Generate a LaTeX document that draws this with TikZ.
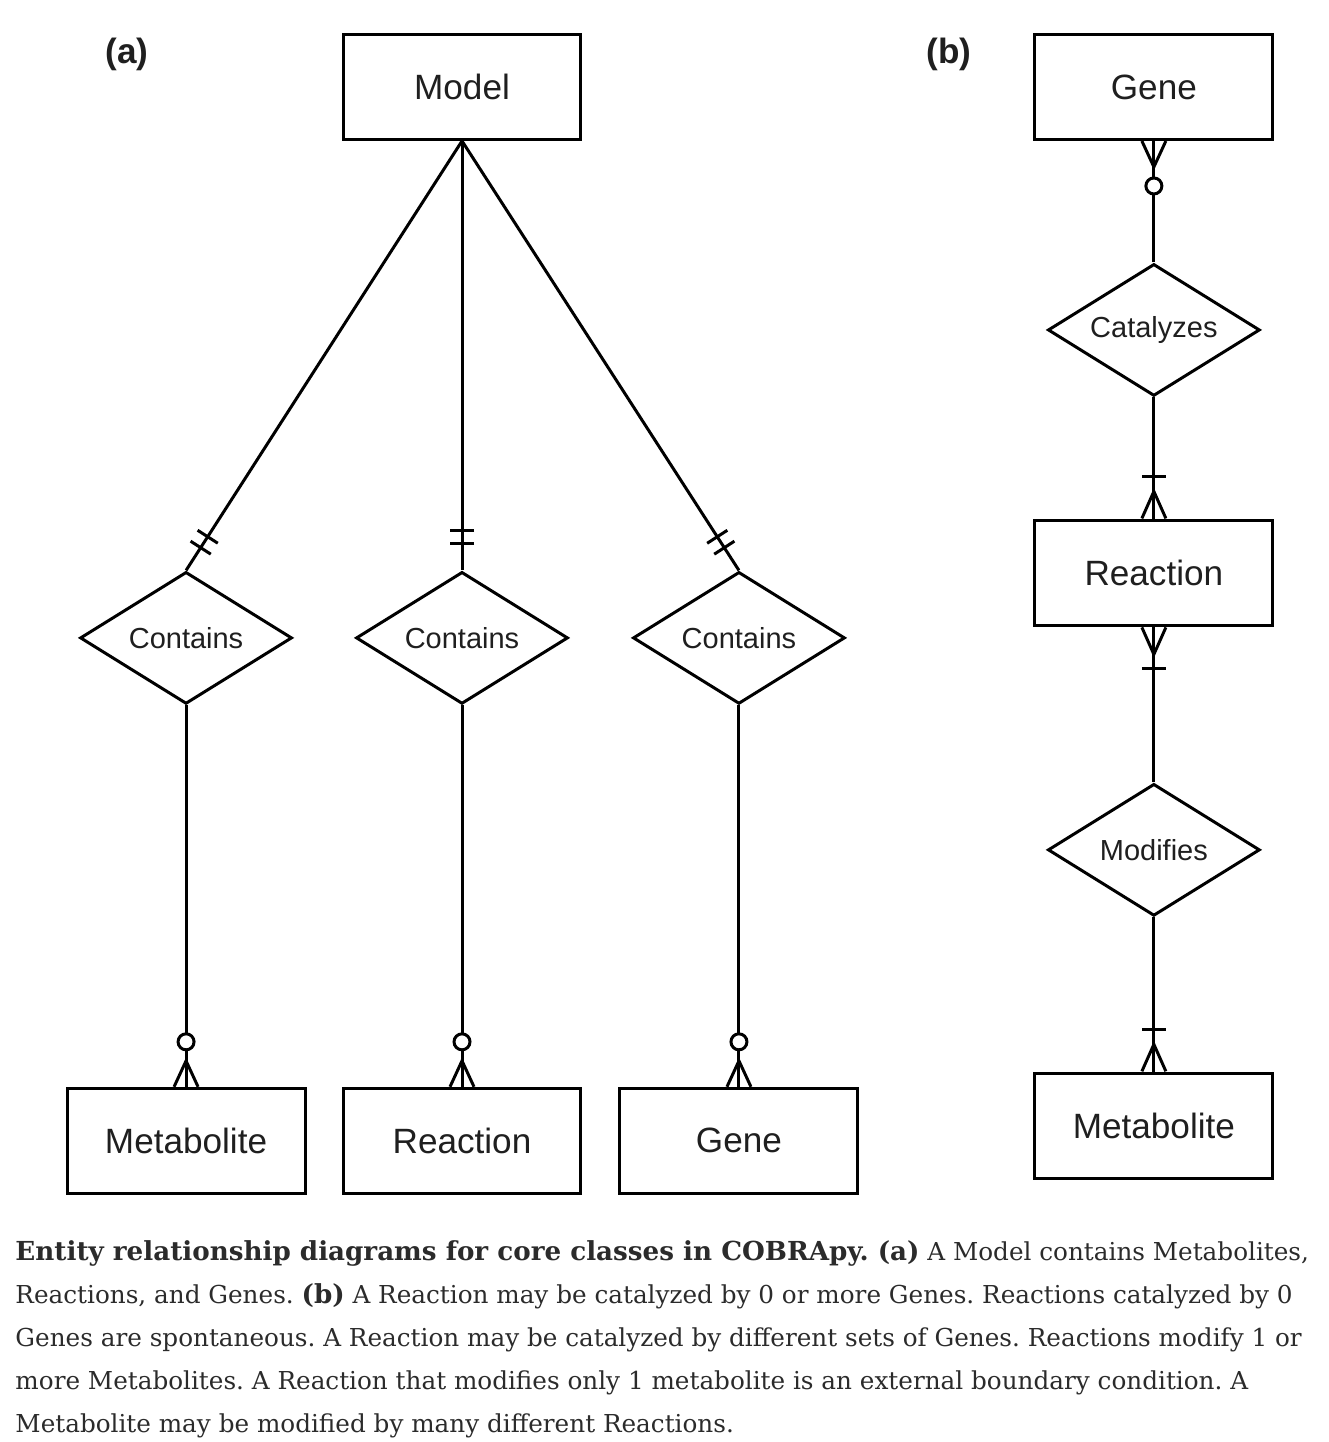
\documentclass[tikz,border=0pt]{standalone}
\usepackage{fontspec}
\usepackage{tikz}
\usetikzlibrary{positioning,shapes.geometric,decorations.markings}
\newfontfamily\diagfont{Liberation Sans}
\newfontfamily\capfont{DejaVu Serif}
\definecolor{inkgray}{rgb}{0.12,0.12,0.12}
\definecolor{captiongray}{rgb}{0.17,0.17,0.17}
\newcommand{\capbold}[1]{{\fontsize{14.9}{17}\selectfont\bfseries #1}}

\begin{document}
\frenchspacing
\begin{tikzpicture}[x=0.02cm, y=-0.02cm, line width=1.7pt, on grid,
    entity/.style={rectangle, draw=black, minimum width=4.76cm, minimum height=2.1cm, font=\diagfont\fontsize{20}{24}\selectfont, text=inkgray},
    relation/.style={diamond, draw=black, shape aspect=1.6, inner sep=0pt, minimum width=4.24cm, minimum height=2.64cm, font=\diagfont\fontsize{16.5}{20}\selectfont, text=inkgray},
    panel/.style={font=\diagfont\bfseries\fontsize{20}{24}\selectfont, text=inkgray},
    capline/.style={anchor=base west, inner sep=0pt, font=\capfont\fontsize{14.05}{17}\selectfont, text=captiongray},
    bartwo/.style={postaction={decorate, decoration={markings,
        mark=at position -0.8cm with {\draw [line width=1.7pt] (0,-12) -- (0,12);},
        mark=at position -0.54cm with {\draw [line width=1.7pt] (0,-12) -- (0,12);}}}},
    zeromany/.style={postaction={decorate, decoration={markings,
        mark=at position -0.9cm with {\draw [line width=1.7pt, fill=white] (0,0) circle (8);},
        mark=at position -0.52cm with {\draw [line width=1.7pt] (26,-12) -- (0,0) -- (26,12);}}}},
    onemany/.style={postaction={decorate, decoration={markings,
        mark=at position -0.84cm with {\draw [line width=1.7pt] (0,-12) -- (0,12);},
        mark=at position -0.55cm with {\draw [line width=1.7pt] (27,-12) -- (0,0) -- (27,12);}}}}]
  \useasboundingbox (0,0) rectangle (1328,1442);
  % (a)
  \node [panel] (LA) at (127,54) {(a)};
  \node [entity] (MODEL) at (462,87) {Model};
  \node [relation] (C2) [below =11.02cm of MODEL] {Contains};
  \node [relation] (C1) [left =5.52cm of C2] {Contains};
  \node [relation] (C3) [right =5.54cm of C2] {Contains};
  \node [entity] (META) [below =10.06cm of C1] {Metabolite};
  \node [entity] (RXNA) [below =10.06cm of C2] {Reaction};
  \node [entity] (GENEA) [below =10.06cm of C3] {Gene};
  \draw [bartwo] (MODEL.south) -- (C1.north);
  \draw [bartwo] (MODEL.south) -- (C2.north);
  \draw [bartwo] (MODEL.south) -- (C3.north);
  \draw [zeromany] (C1.south) -- (META.north);
  \draw [zeromany] (C2.south) -- (RXNA.north);
  \draw [zeromany] (C3.south) -- (GENEA.north);
  % (b)
  \node [panel] (LB) at (949,54) {(b)};
  \node [entity] (GENEB) [right =13.84cm of MODEL] {Gene};
  \node [relation] (CAT) [below =4.86cm of GENEB] {Catalyzes};
  \node [entity] (RXNB) [below =4.86cm of CAT] {Reaction};
  \node [relation] (MOD) [below =5.54cm of RXNB] {Modifies};
  \node [entity] (METB) [below =5.52cm of MOD] {Metabolite};
  \draw [zeromany] (CAT.north) -- (GENEB.south);
  \draw [onemany] (CAT.south) -- (RXNB.north);
  \draw [onemany] (MOD.north) -- (RXNB.south);
  \draw [onemany] (MOD.south) -- (METB.north);
  % caption
  \node [capline] (CAP1) at (14,1260) {\capbold{Entity relationship diagrams for core classes in COBRApy. (a)} A Model contains Metabolites,};
  \node [capline] (CAP2) at (14,1303) {Reactions, and Genes. \capbold{(b)} A Reaction may be catalyzed by 0 or more Genes. Reactions catalyzed by 0};
  \node [capline] (CAP3) at (14,1346) {Genes are spontaneous. A Reaction may be catalyzed by different sets of Genes. Reactions modify 1 or};
  \node [capline] (CAP4) at (14,1389) {more Metabolites. A Reaction that modifies only 1 metabolite is an external boundary condition. A};
  \node [capline] (CAP5) at (14,1432) {Metabolite may be modified by many different Reactions.};
\end{tikzpicture}
\end{document}
